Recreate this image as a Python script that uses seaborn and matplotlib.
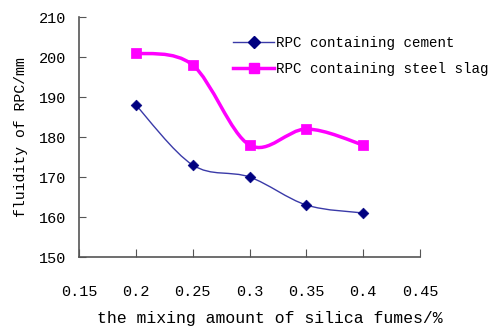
import numpy as np
import pandas as pd
import seaborn as sns
import matplotlib.pyplot as plt
from matplotlib.path import Path
from matplotlib.patches import PathPatch
from matplotlib.lines import Line2D

silica = [0.2, 0.25, 0.3, 0.35, 0.4]
cement = [188, 173, 170, 163, 161]
steel_slag = [201, 198, 178, 182, 178]
x_ticks = [0.15, 0.2, 0.25, 0.3, 0.35, 0.4, 0.45]
y_ticks = [150, 160, 170, 180, 190, 200, 210]


def smooth_path(xs, ys, t=1 / 6):
    # Excel-style smoothed line: cubic bezier segments through the points
    pts = np.column_stack([xs, ys]).astype(float)
    verts = [pts[0]]
    codes = [Path.MOVETO]
    n = len(pts)
    for i in range(n - 1):
        p0 = pts[max(i - 1, 0)]
        p1 = pts[i]
        p2 = pts[i + 1]
        p3 = pts[min(i + 2, n - 1)]
        c1 = p1 + (p2 - p0) * t
        c2 = p2 - (p3 - p1) * t
        verts += [c1, c2, p2]
        codes += [Path.CURVE4] * 3
    return Path(verts, codes)


df = pd.DataFrame({'x': silica, 'cement': cement, 'slag': steel_slag})

plt.rcParams['font.family'] = ['Liberation Mono', 'DejaVu Sans Mono']
fig = plt.figure(figsize=(4.92, 3.29), dpi=100)
ax = fig.add_axes([0.1606, 0.2188, 0.6931, 0.7295])

ax.add_patch(PathPatch(smooth_path(df['x'], df['slag']), facecolor='none',
                       edgecolor='#ff00ff', lw=2.5))
ax.add_patch(PathPatch(smooth_path(df['x'], df['cement']), facecolor='none',
                       edgecolor='#3a3aa8', lw=1.0))
sns.scatterplot(data=df, x='x', y='slag', marker='s', color='#ff00ff',
                s=45, edgecolor='#ff00ff', ax=ax, zorder=3)
sns.scatterplot(data=df, x='x', y='cement', marker='D', color='#000080',
                s=30, edgecolor='#000080', ax=ax, zorder=3)

ax.set_xlim(0.15, 0.45)
ax.set_ylim(150, 210)
ax.set_xticks(x_ticks)
ax.set_xticklabels(['0.15', '0.2', '0.25', '0.3', '0.35', '0.4', '0.45'])
ax.set_yticks(y_ticks)
ax.tick_params(axis='x', direction='in', length=6, pad=20, labelsize=11,
               color='#555555')
ax.tick_params(axis='y', direction='in', length=5, pad=9, labelsize=11,
               color='#555555')
for side in ['top', 'right']:
    ax.spines[side].set_visible(False)
for side in ['left', 'bottom']:
    ax.spines[side].set_color('#555555')
    ax.spines[side].set_linewidth(1.2)

ax.set_xlabel('the mixing amount of silica fumes/%', fontsize=11.9)
ax.xaxis.set_label_coords(0.56, -0.225)
ax.set_ylabel('fluidity of RPC/mm', fontsize=10.7, labelpad=8)

handles = [
    Line2D([], [], color='#3a3aa8', lw=1.0, marker='D', markersize=6,
           markerfacecolor='#000080', markeredgecolor='#000080'),
    Line2D([], [], color='#ff00ff', lw=2.5, marker='s', markersize=7),
]
fig.legend(handles, ['RPC containing cement', 'RPC containing steel slag'],
           loc='upper left', bbox_to_anchor=(233 / 492, 1 - 36 / 329),
           frameon=False, fontsize=10.2, handlelength=2.9, handletextpad=0.1,
           labelspacing=0.85, borderpad=0, borderaxespad=0)

fig.savefig('out.png', dpi=100)
